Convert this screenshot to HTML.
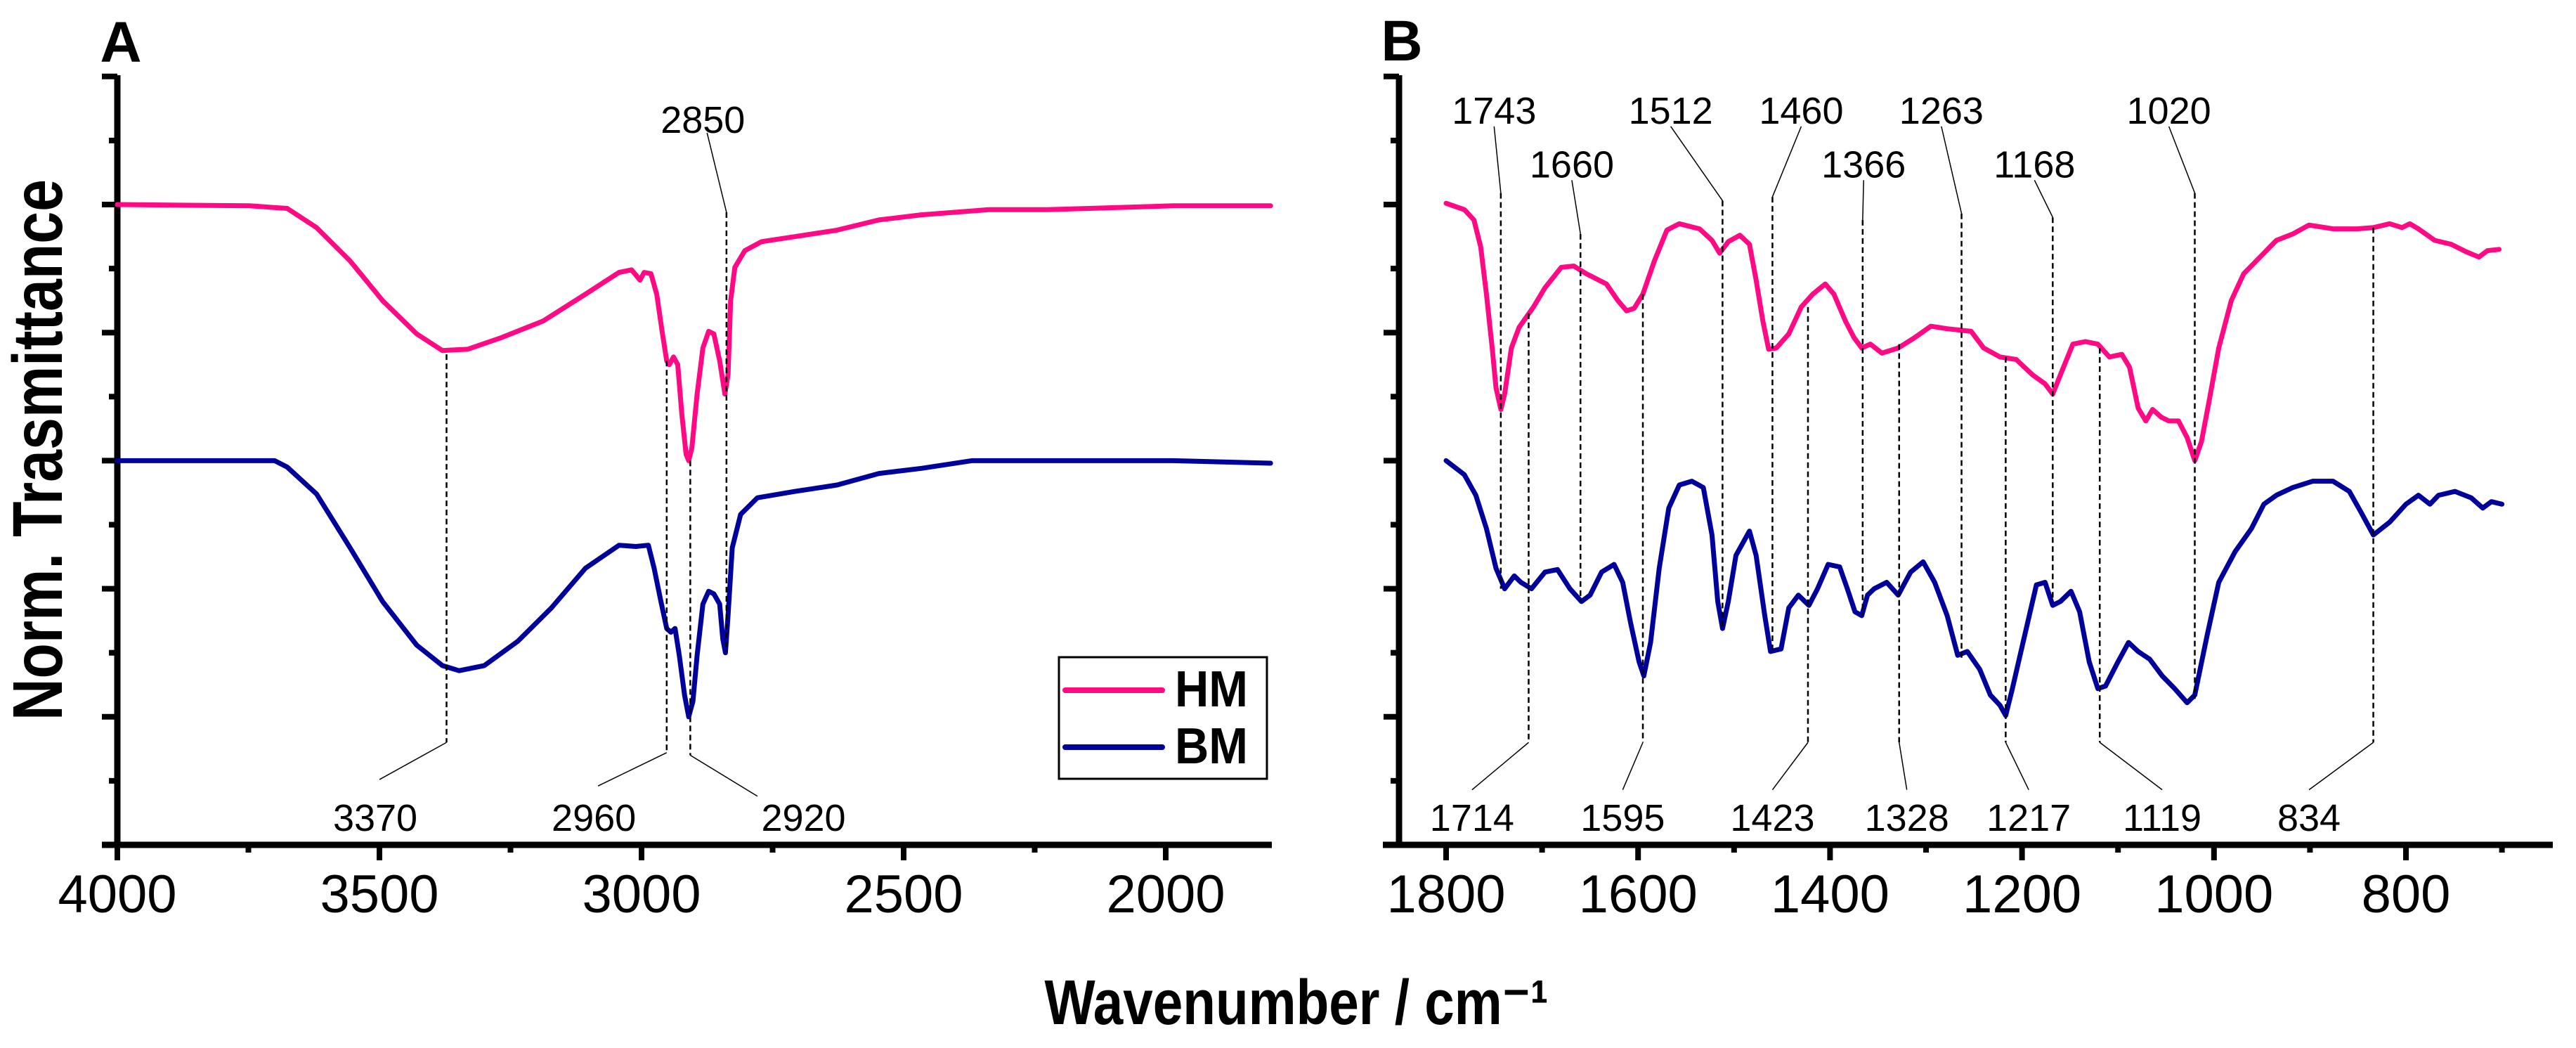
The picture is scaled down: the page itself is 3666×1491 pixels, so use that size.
<!DOCTYPE html>
<html><head><meta charset="utf-8"><style>
html,body{margin:0;padding:0;background:#fff;}
svg{display:block;font-family:"Liberation Sans",sans-serif;}
</style></head><body>
<svg id="chart" width="3666" height="1491" viewBox="0 0 3666 1491" xmlns="http://www.w3.org/2000/svg"></svg>
<script>
// ---- data (wavenumber cm-1, normalised transmittance in tick units) ----
const hmAwn = [4000,3748,3676,3620,3556,3494,3429,3380,3332,3268,3188,3107,3043,3019,3003,2995,2982,2971,2960,2952,2947,2939,2931,2923,2915,2910,2904,2894,2883,2872,2862,2851,2841,2835,2830,2822,2803,2771,2707,2627,2547,2466,2338,2226,2146,1986,1800];
const hmAv  = [5.0,4.99,4.97,4.82,4.56,4.25,3.99,3.86,3.87,3.96,4.09,4.30,4.47,4.49,4.41,4.47,4.46,4.30,3.99,3.78,3.75,3.81,3.75,3.36,3.05,3.00,3.10,3.52,3.88,4.01,3.99,3.78,3.52,3.67,4.25,4.51,4.64,4.71,4.75,4.80,4.88,4.92,4.96,4.96,4.97,4.99,4.99];
const bmAwn = [4000,3700,3676,3620,3556,3494,3429,3380,3348,3300,3236,3172,3107,3043,3011,2987,2976,2963,2952,2944,2936,2928,2918,2910,2902,2894,2883,2872,2862,2851,2845,2840,2835,2827,2811,2779,2707,2627,2547,2466,2370,2226,1986,1800];
const bmAv  = [3.0,3.0,2.95,2.74,2.32,1.90,1.56,1.40,1.36,1.40,1.59,1.85,2.16,2.34,2.33,2.34,2.16,1.90,1.69,1.66,1.69,1.48,1.17,1.00,1.12,1.48,1.88,1.98,1.96,1.88,1.61,1.50,1.79,2.32,2.58,2.71,2.76,2.81,2.90,2.94,3.0,3.0,3.0,2.98];
const hmBwn = [1800,1781,1771,1764,1758,1752,1748,1743,1739,1732,1724,1709,1697,1680,1667,1654,1633,1621,1612,1604,1595,1583,1570,1557,1536,1523,1515,1506,1494,1484,1477,1470,1464,1456,1443,1430,1418,1405,1396,1384,1375,1367,1358,1346,1329,1312,1295,1278,1253,1240,1223,1206,1189,1176,1168,1160,1147,1134,1121,1109,1096,1088,1079,1071,1064,1055,1047,1037,1028,1020,1013,1005,995,982,969,952,935,918,901,876,851,834,817,804,796,787,770,753,737,724,715,703];
const hmBv  = [5.01,4.96,4.88,4.67,4.30,3.88,3.57,3.40,3.52,3.88,4.04,4.20,4.35,4.51,4.52,4.46,4.38,4.25,4.17,4.19,4.30,4.56,4.80,4.85,4.81,4.72,4.62,4.71,4.76,4.69,4.41,4.09,3.87,3.88,3.99,4.20,4.30,4.38,4.30,4.09,3.96,3.88,3.91,3.84,3.88,3.96,4.05,4.03,4.01,3.88,3.81,3.79,3.67,3.60,3.52,3.67,3.91,3.93,3.91,3.81,3.83,3.73,3.41,3.31,3.40,3.34,3.31,3.31,3.18,3.00,3.15,3.47,3.88,4.25,4.46,4.59,4.72,4.77,4.84,4.81,4.81,4.82,4.85,4.82,4.85,4.81,4.72,4.69,4.63,4.59,4.64,4.65];
const bmBwn = [1800,1781,1769,1758,1748,1739,1729,1722,1711,1697,1684,1671,1659,1650,1638,1625,1616,1608,1599,1594,1587,1578,1568,1557,1544,1532,1523,1517,1512,1506,1498,1484,1477,1468,1462,1451,1443,1433,1422,1413,1402,1390,1382,1374,1367,1361,1354,1341,1329,1316,1303,1291,1278,1267,1257,1244,1233,1223,1217,1210,1198,1185,1176,1168,1160,1149,1140,1130,1121,1113,1100,1089,1079,1067,1054,1041,1028,1020,1007,995,978,961,948,935,918,897,876,859,847,834,817,800,787,775,766,749,732,720,711,700];
const bmBv  = [3.00,2.89,2.73,2.47,2.16,2.00,2.10,2.05,2.00,2.13,2.15,2.00,1.90,1.95,2.13,2.19,2.05,1.74,1.43,1.32,1.58,2.16,2.63,2.81,2.84,2.79,2.42,1.90,1.69,1.90,2.26,2.45,2.26,1.79,1.51,1.53,1.85,1.95,1.87,2.00,2.19,2.17,2.00,1.82,1.79,1.95,2.00,2.05,1.95,2.13,2.21,2.05,1.79,1.48,1.51,1.37,1.17,1.09,1.01,1.22,1.61,2.03,2.05,1.87,1.90,1.98,1.82,1.43,1.22,1.24,1.43,1.58,1.51,1.45,1.32,1.22,1.11,1.17,1.64,2.05,2.29,2.47,2.66,2.73,2.79,2.84,2.84,2.76,2.60,2.42,2.52,2.66,2.73,2.66,2.73,2.76,2.71,2.63,2.68,2.66];
// annotations panel A: [label, lineX, dashTop, dashBottom, diagEndX, diagEndY, labelX, labelY]
const annA = [["3370",3372,3.83,0.80,3500,0.51,3508,0.22],["2960",2952,3.78,0.72,3083,0.46,3091,0.22],["2920",2907,3.00,0.70,2779,0.38,2691,0.22]];
const annAtop = [["2850",2838,4.94,1.51,2875,5.56,2883,5.67]];
// panel B top labels: [label, dashX, dashTop, dashBottom, labelX, row]
const annBtop = [["1743",1743,5.09,2.00,1750,0],["1660",1660,4.77,1.90,1669,1],["1512",1512,5.03,1.69,1566,0],["1460",1460,5.06,1.51,1430,0],["1366",1366,4.88,1.79,1365,1],["1263",1263,4.93,1.45,1284,0],["1168",1168,4.90,1.90,1187,1],["1020",1020,5.09,1.14,1047,0]];
const annBbot = [["1714",1714,4.15,1773],["1595",1595,4.30,1616],["1423",1423,4.20,1460],["1328",1328,3.91,1320],["1217",1217,3.81,1193],["1119",1119,3.88,1054],["834",834,4.82,901]];
const ticksA = [4000,3500,3000,2500,2000];
const ticksB = [1800,1600,1400,1200,1000,800];

const svg = document.getElementById('chart');
const NS = 'http://www.w3.org/2000/svg';
function mk(tag, attrs, parent){const e=document.createElementNS(NS,tag);for(const k in attrs)e.setAttribute(k,attrs[k]);(parent||svg).appendChild(e);return e;}
const HM='#ff0a84', BM='#00009a';
const yPx = v => 1202 - v*182.2;
const xA = w => 167 + (4000-w)*0.746;
const xB = w => 2058 + (1800-w)*1.366;

function axes(g, axX, x0, x1, majors, minorStep, xf, name){
  const a=mk('path',{d:`M${x0} 1202H${x1}M${axX} 1206V107`,stroke:'#000','stroke-width':9,fill:'none'},g);
  
  
  for(let i=0;i<=12;i++){const y=1202-i*91.1;const len=(i%2===0)?22:12;
    const t=mk('line',{x1:axX-len,x2:axX,y1:y,y2:y,stroke:'#000','stroke-width':8},g);
    
    }
  majors.forEach(w=>{const x=xf(w);
    const t=mk('line',{x1:x,x2:x,y1:1202,y2:1224,stroke:'#000','stroke-width':8},g);
    
    
    const l=mk('text',{x:x,y:1298,'font-size':76,'text-anchor':'middle',fill:'#000'},g);l.textContent=w;
    
    
    const xm=xf(w-minorStep);
    if(xm<x1-5){const m=mk('line',{x1:xm,x2:xm,y1:1202,y2:1213,stroke:'#000','stroke-width':8},g);
      
      }
  });
}
function series(g, wn, v, xf, color, name){
  const d=wn.map((w,i)=>(i?'L':'M')+xf(w).toFixed(1)+' '+yPx(v[i]).toFixed(1)).join('');
  const p=mk('path',{d:d,stroke:color,'stroke-width':7,fill:'none','stroke-linejoin':'round','stroke-linecap':'round'},g);
  
  
}
function dash(g,x,y1,y2){const l=mk('line',{x1:x,x2:x,y1:y1,y2:y2,stroke:'#000','stroke-width':2.5,'stroke-dasharray':'8 5'},g);
  
  }
function thin(g,x1,y1,x2,y2){const l=mk('line',{x1:x1,y1:y1,x2:x2,y2:y2,stroke:'#000','stroke-width':1.5},g);
  
  }
function label(g,txt,x,y){const t=mk('text',{x:x,y:y,'font-size':54,'text-anchor':'middle',fill:'#000'},g);t.textContent=txt;
  
  }

// Panel A
const gA=mk('g',{});


axes(gA,167,145,1810,ticksA,250,xA,'panel-a');
series(gA,hmAwn,hmAv,xA,HM,'hm-trace-a');
series(gA,bmAwn,bmAv,xA,BM,'bm-trace-a');
annA.forEach(a=>{const x=xA(a[1]);dash(gA,x,yPx(a[2]),yPx(a[3]));thin(gA,x,yPx(a[3]),xA(a[4]),yPx(a[5]));label(gA,a[0],xA(a[6]),yPx(a[7])+20);});
annAtop.forEach(a=>{const x=xA(a[1]);dash(gA,x,yPx(a[2]),yPx(a[3]));thin(gA,x,yPx(a[2]),xA(a[4]),yPx(a[5]));label(gA,a[0],xA(a[6]),yPx(a[7])+20);});
const tA=mk('text',{x:172,y:88,'font-size':82,'font-weight':'bold','text-anchor':'middle'});tA.textContent='A';



// legend
const lg=mk('g',{});


mk('rect',{x:1507,y:935,width:296,height:173,fill:'#fff',stroke:'#000','stroke-width':3},lg);
[['HM',HM,982,1005],['BM',BM,1063,1086]].forEach(e=>{
  const le=mk('line',{x1:1516,x2:1654,y1:e[2],y2:e[2],stroke:e[1],'stroke-width':8,'stroke-linecap':'round'},lg);
  
  
  const t=mk('text',{x:1672,y:e[3],'font-size':72,'font-weight':'bold',textLength:104,lengthAdjust:'spacingAndGlyphs'},lg);t.textContent=e[0];
  
  
});

// Panel B
const gB=mk('g',{});


axes(gB,1991,1968,3633,ticksB,100,xB,'panel-b');
series(gB,hmBwn,hmBv,xB,HM,'hm-trace-b');
series(gB,bmBwn,bmBv,xB,BM,'bm-trace-b');
annBtop.forEach(a=>{const x=xB(a[1]);const top=a[5]?5.19:5.61;const ly=a[5]?5.32:5.74;
  dash(gB,x,yPx(a[2]),yPx(a[3]));thin(gB,x,yPx(a[2]),xB(a[4]),yPx(top));label(gB,a[0],xB(a[4]),yPx(ly)+20);});
annBbot.forEach(a=>{const x=xB(a[1]);dash(gB,x,yPx(a[2]),yPx(0.80));thin(gB,x,yPx(0.80),xB(a[3]),yPx(0.43));label(gB,a[0],xB(a[3]),yPx(0.22)+20);});
const tB=mk('text',{x:1995,y:86,'font-size':82,'font-weight':'bold','text-anchor':'middle'});tB.textContent='B';



// axis titles
const yt=mk('text',{x:0,y:0,'font-size':100,'font-weight':'bold','text-anchor':'middle',transform:'translate(88,640) rotate(-90)',textLength:770,lengthAdjust:'spacingAndGlyphs'});
yt.textContent='Norm. Trasmittance';


const xt=mk('text',{x:1845,y:1457,'font-size':90,'font-weight':'bold','text-anchor':'middle',textLength:717,lengthAdjust:'spacingAndGlyphs'});
xt.textContent='Wavenumber / cm⁻¹';


</script>
</body></html>
